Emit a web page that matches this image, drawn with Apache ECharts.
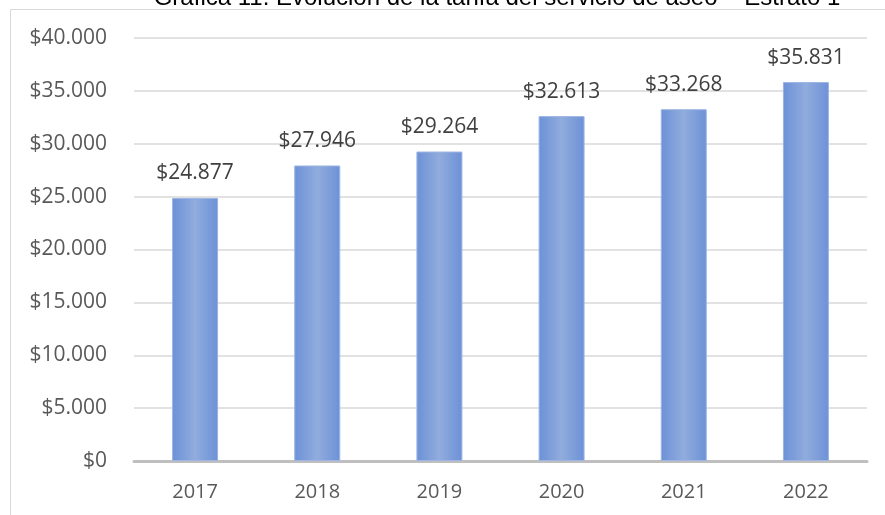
<!DOCTYPE html>
<html>
<head>
<meta charset="utf-8">
<script src="https://cdn.jsdelivr.net/npm/echarts@6/dist/echarts.min.js"></script>
<style>
  html, body { margin: 0; padding: 0; background: #fff; }
  #chart { width: 885px; height: 515px; }
</style>
</head>
<body>
<div id="chart"></div>
<script>
const years = ['2017', '2018', '2019', '2020', '2021', '2022'];
const tarifa = [24877, 27946, 29264, 32613, 33268, 35831];
const titulo = 'Gráfica 11. Evolución de la tarifa del servicio de aseo – Estrato 1';

function pesos(v) {
  return '$' + v.toString().replace(/\B(?=(\d{3})+(?!\d))/g, '.');
}

const chart = echarts.init(document.getElementById('chart'));
chart.setOption({
  animation: false,
  title: {
    text: titulo,
    left: 492,
    textAlign: 'center',
    top: -19,
    textStyle: { fontFamily: 'Liberation Sans', fontSize: 24, fontWeight: 'normal', color: '#000' }
  },
  graphic: [{
    type: 'rect',
    shape: { x: 10.5, y: 9.5, width: 900, height: 520 },
    style: { fill: 'none', stroke: '#d9d9d9', lineWidth: 1 },
    z: -1
  }],
  grid: { left: 134, right: 18, top: 38, bottom: 54 },
  xAxis: {
    type: 'category',
    data: years,
    axisLine: { lineStyle: { color: '#bfbfbf', width: 3 } },
    axisTick: { show: false },
    axisLabel: { color: '#595959', fontSize: 20, fontFamily: 'Open Sans', margin: 21 }
  },
  yAxis: {
    type: 'value',
    min: 0,
    max: 40000,
    interval: 5000,
    axisLabel: { color: '#595959', fontSize: 21, fontFamily: 'Open Sans', margin: 27, formatter: pesos },
    splitLine: { lineStyle: { color: '#d9d9d9', width: 1.5 } }
  },
  series: [{
    type: 'bar',
    data: tarifa,
    barWidth: 46,
    itemStyle: {
      color: new echarts.graphic.LinearGradient(0, 0, 1, 0, [
        { offset: 0, color: '#6c91d7' },
        { offset: 0.5, color: '#91acdd' },
        { offset: 1, color: '#6c91d7' }
      ]),
      borderColor: '#9db5e3',
      borderWidth: 1
    },
    label: {
      show: true,
      position: 'top',
      distance: 14,
      color: '#404040',
      fontSize: 21,
      fontFamily: 'Open Sans',
      formatter: p => pesos(p.value)
    }
  }]
});
</script>
</body>
</html>
